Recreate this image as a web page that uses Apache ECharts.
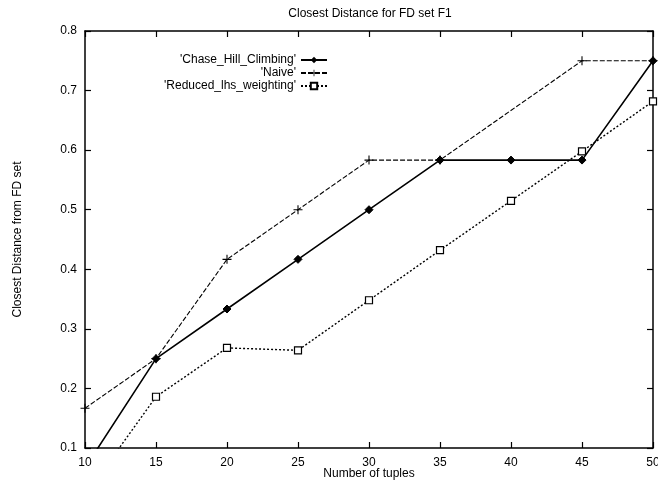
<!DOCTYPE html>
<html><head><meta charset="utf-8">
<script src="https://cdn.jsdelivr.net/npm/echarts@6/dist/echarts.min.js"></script>
<style>html,body{margin:0;padding:0;background:#fff}#c{width:658px;height:481px}</style>
</head><body><div id="c"></div>
<script>
const xValues = [10, 15, 20, 25, 30, 35, 40, 45, 50];
const chaseHill = [0.0667, 0.25, 0.3333, 0.4167, 0.5, 0.5833, 0.5833, 0.5833, 0.75];
const naive = [0.1667, 0.25, 0.4167, 0.5, 0.5833, 0.5833, null, 0.75, 0.75];
const reducedLhs = [0.02, 0.186, 0.268, 0.264, 0.348, 0.432, 0.515, 0.598, 0.682];
const seriesNames = ["'Chase_Hill_Climbing'", "'Naive'", "'Reduced_lhs_weighting'"];
const titleText = 'Closest Distance for FD set F1';
const xName = 'Number of tuples';
const yName = 'Closest Distance from FD set';

const FONT = 'Liberation Sans, Arial, Helvetica, sans-serif';
const pair = arr => xValues.map((x, i) => [x, arr[i]]).filter(p => p[1] !== null);
const plusPath = 'path://M-0.6,-5H0.6V-0.6H5V0.6H0.6V5H-0.6V0.6H-5V-0.6H-0.6Z';

const chart = echarts.init(document.getElementById('c'));
const axisCommon = {
  axisLine: {lineStyle: {color: '#000', width: 1.5}},
  axisTick: {inside: true, length: 6, lineStyle: {color: '#000', width: 1.2}},
  splitLine: {show: false},
  axisLabel: {color: '#000', fontFamily: FONT, fontSize: 12}
};
function legendAt(name, top) {
  return {
    data: [name], right: 330, top: top, orient: 'vertical', align: 'right',
    itemWidth: 26, itemHeight: 8, itemGap: 0, padding: 0,
    textStyle: {color: '#000', fontFamily: FONT, fontSize: 12},
    selectedMode: false
  };
}
chart.setOption({
  animation: false,
  backgroundColor: '#fff',
  title: {text: titleText, left: 365, top: 3, textAlign: 'center',
    textStyle: {color: '#000', fontFamily: FONT, fontSize: 12, fontWeight: 'normal'}},
  legend: [legendAt(seriesNames[0], 54), legendAt(seriesNames[1], 67), legendAt(seriesNames[2], 80)],
  grid: {left: 85, right: 5, top: 31, bottom: 33, containLabel: false, outerBoundsMode: 'none'},
  xAxis: [
    Object.assign({}, axisCommon, {type: 'value', min: 10, max: 50, interval: 5, position: 'bottom',
      name: xName, nameLocation: 'middle', nameGap: 20, nameMoveOverlap: false,
      nameTextStyle: {color: '#000', fontFamily: FONT, fontSize: 12},
      axisLabel: Object.assign({}, axisCommon.axisLabel, {margin: 9})}),
    Object.assign({}, axisCommon, {type: 'value', min: 10, max: 50, interval: 5, position: 'top',
      axisLabel: {show: false}})
  ],
  yAxis: [
    Object.assign({}, axisCommon, {type: 'value', min: 0.1, max: 0.8, interval: 0.1, position: 'left',
      name: yName, nameLocation: 'middle', nameGap: 61, nameRotate: 90, nameMoveOverlap: false,
      nameTextStyle: {color: '#000', fontFamily: FONT, fontSize: 12},
      axisLabel: Object.assign({}, axisCommon.axisLabel, {margin: 8, formatter: v => v.toFixed(1)})}),
    Object.assign({}, axisCommon, {type: 'value', min: 0.1, max: 0.8, interval: 0.1, position: 'right',
      axisLabel: {show: false}})
  ],
  series: [
    {name: seriesNames[0], type: 'line', data: pair(chaseHill), color: '#000',
      symbol: 'diamond', symbolSize: 8, showAllSymbol: true,
      lineStyle: {color: '#000', width: 1.6, type: 'solid'},
      itemStyle: {color: '#000', borderColor: '#000'}, z: 3},
    {name: seriesNames[1], type: 'line', data: pair(naive), color: '#000',
      symbol: plusPath, symbolSize: 9, showAllSymbol: true,
      lineStyle: {color: '#000', width: 1.1, type: [5, 2]},
      itemStyle: {color: '#000', borderWidth: 0}, z: 2},
    {name: seriesNames[2], type: 'line', data: pair(reducedLhs), color: '#000',
      symbol: 'rect', symbolSize: 7, showAllSymbol: true,
      lineStyle: {color: '#000', width: 1.4, type: [2, 2]},
      itemStyle: {color: '#fff', borderColor: '#000', borderWidth: 1.2}, z: 2}
  ]
});
</script></body></html>
